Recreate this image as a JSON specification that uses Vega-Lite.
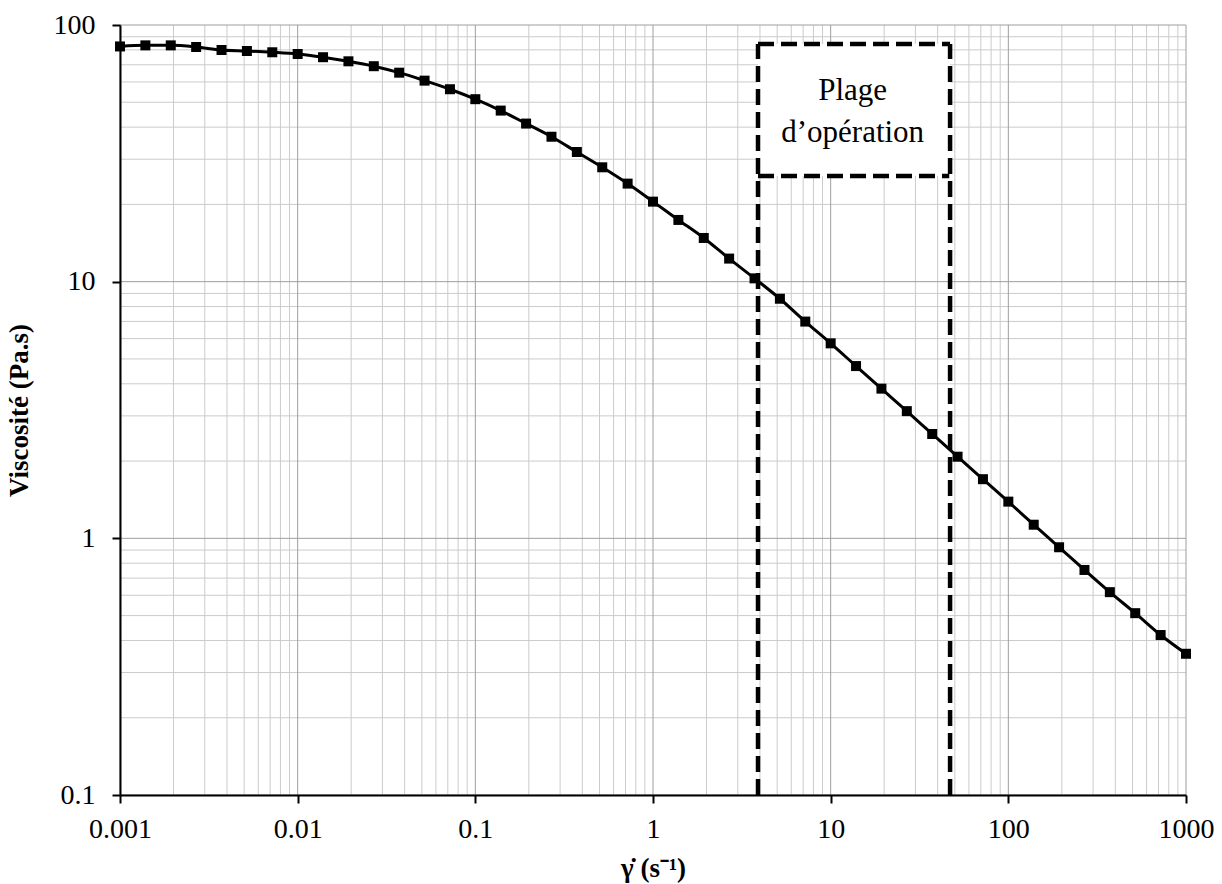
{
  "$schema": "https://vega.github.io/schema/vega-lite/v6.json",
  "width": 1066,
  "height": 770,
  "autosize": {"type": "none"},
  "padding": {"left": 120, "top": 25, "right": 36, "bottom": 89},
  "background": "white",
  "config": {"view": {"stroke": null}},
  "datasets": {
    "curve": [
      {"x": 0.001, "y": 82.5},
      {"x": 0.0013895, "y": 83.3},
      {"x": 0.0019307, "y": 83.3},
      {"x": 0.0026827, "y": 82.1},
      {"x": 0.0037276, "y": 79.9},
      {"x": 0.0051795, "y": 79.2},
      {"x": 0.0071969, "y": 78.3},
      {"x": 0.01, "y": 77.1},
      {"x": 0.013895, "y": 74.9},
      {"x": 0.019307, "y": 72.2},
      {"x": 0.026827, "y": 69.1},
      {"x": 0.037276, "y": 65.2},
      {"x": 0.051795, "y": 60.7},
      {"x": 0.071969, "y": 56.2},
      {"x": 0.1, "y": 51.4},
      {"x": 0.13895, "y": 46.4},
      {"x": 0.19307, "y": 41.3},
      {"x": 0.26827, "y": 36.7},
      {"x": 0.37276, "y": 32.0},
      {"x": 0.51795, "y": 27.9},
      {"x": 0.71969, "y": 24.1},
      {"x": 1, "y": 20.5},
      {"x": 1.3895, "y": 17.4},
      {"x": 1.9307, "y": 14.8},
      {"x": 2.6827, "y": 12.3},
      {"x": 3.7276, "y": 10.3},
      {"x": 5.1795, "y": 8.58},
      {"x": 7.1969, "y": 6.99},
      {"x": 10, "y": 5.75},
      {"x": 13.895, "y": 4.69},
      {"x": 19.307, "y": 3.83},
      {"x": 26.827, "y": 3.13},
      {"x": 37.276, "y": 2.55},
      {"x": 51.795, "y": 2.08},
      {"x": 71.969, "y": 1.70},
      {"x": 100, "y": 1.39},
      {"x": 138.95, "y": 1.13},
      {"x": 193.07, "y": 0.923},
      {"x": 268.27, "y": 0.753},
      {"x": 372.76, "y": 0.617},
      {"x": 517.95, "y": 0.511},
      {"x": 719.69, "y": 0.420},
      {"x": 1000, "y": 0.355}
    ],
    "xMinor": [
      {"x": 0.002}, {"x": 0.003}, {"x": 0.004}, {"x": 0.005}, {"x": 0.006}, {"x": 0.007}, {"x": 0.008}, {"x": 0.009},
      {"x": 0.02}, {"x": 0.03}, {"x": 0.04}, {"x": 0.05}, {"x": 0.06}, {"x": 0.07}, {"x": 0.08}, {"x": 0.09},
      {"x": 0.2}, {"x": 0.3}, {"x": 0.4}, {"x": 0.5}, {"x": 0.6}, {"x": 0.7}, {"x": 0.8}, {"x": 0.9},
      {"x": 2}, {"x": 3}, {"x": 4}, {"x": 5}, {"x": 6}, {"x": 7}, {"x": 8}, {"x": 9},
      {"x": 20}, {"x": 30}, {"x": 40}, {"x": 50}, {"x": 60}, {"x": 70}, {"x": 80}, {"x": 90},
      {"x": 200}, {"x": 300}, {"x": 400}, {"x": 500}, {"x": 600}, {"x": 700}, {"x": 800}, {"x": 900}
    ],
    "xMajor": [
      {"x": 0.001}, {"x": 0.01}, {"x": 0.1}, {"x": 1}, {"x": 10}, {"x": 100}, {"x": 1000}
    ],
    "yMinor": [
      {"y": 0.2}, {"y": 0.3}, {"y": 0.4}, {"y": 0.5}, {"y": 0.6}, {"y": 0.7}, {"y": 0.8}, {"y": 0.9},
      {"y": 2}, {"y": 3}, {"y": 4}, {"y": 5}, {"y": 6}, {"y": 7}, {"y": 8}, {"y": 9},
      {"y": 20}, {"y": 30}, {"y": 40}, {"y": 50}, {"y": 60}, {"y": 70}, {"y": 80}, {"y": 90}
    ],
    "yMajor": [
      {"y": 0.1}, {"y": 1}, {"y": 10}, {"y": 100}
    ],
    "box": [{"x": 3.9, "x2": 47, "y": 25.8, "y2": 84.4}],
    "lines": [
      {"x": 3.9, "x2": 3.9, "y": 0.1, "y2": 84.4},
      {"x": 47, "x2": 47, "y": 0.1, "y2": 84.4},
      {"x": 3.9, "x2": 47, "y": 84.4, "y2": 84.4},
      {"x": 3.9, "x2": 46.5, "y": 25.8, "y2": 25.8}
    ],
    "labels": [
      {"x": 13.3, "y": 51, "label": "Plage"},
      {"x": 13.3, "y": 35, "label": "d’opération"}
    ]
  },
  "layer": [
    {
      "data": {"name": "xMinor"},
      "mark": {"type": "rule", "color": "#cbcbcb", "strokeWidth": 1},
      "encoding": {
        "x": {"field": "x", "type": "quantitative", "scale": {"type": "log", "domain": [0.001, 1000], "nice": false}}
      }
    },
    {
      "data": {"name": "yMinor"},
      "mark": {"type": "rule", "color": "#cbcbcb", "strokeWidth": 1},
      "encoding": {
        "y": {"field": "y", "type": "quantitative", "scale": {"type": "log", "domain": [0.1, 100], "nice": false}}
      }
    },
    {
      "data": {"name": "xMajor"},
      "mark": {"type": "rule", "color": "#9e9e9e", "strokeWidth": 1},
      "encoding": {
        "x": {"field": "x", "type": "quantitative", "scale": {"type": "log", "domain": [0.001, 1000], "nice": false}}
      }
    },
    {
      "data": {"name": "yMajor"},
      "mark": {"type": "rule", "color": "#9e9e9e", "strokeWidth": 1},
      "encoding": {
        "y": {"field": "y", "type": "quantitative", "scale": {"type": "log", "domain": [0.1, 100], "nice": false}}
      }
    },
    {
      "data": {"name": "box"},
      "mark": {"type": "rect", "fill": "white", "stroke": null},
      "encoding": {
        "x": {"field": "x", "type": "quantitative", "scale": {"type": "log", "domain": [0.001, 1000], "nice": false}},
        "x2": {"field": "x2"},
        "y": {"field": "y", "type": "quantitative", "scale": {"type": "log", "domain": [0.1, 100], "nice": false}},
        "y2": {"field": "y2"}
      }
    },
    {
      "data": {"name": "lines"},
      "mark": {"type": "rule", "color": "black", "strokeWidth": 4.5, "strokeDash": [16, 7], "strokeCap": "butt"},
      "encoding": {
        "x": {"field": "x", "type": "quantitative", "scale": {"type": "log", "domain": [0.001, 1000], "nice": false}},
        "x2": {"field": "x2"},
        "y": {"field": "y", "type": "quantitative", "scale": {"type": "log", "domain": [0.1, 100], "nice": false}},
        "y2": {"field": "y2"}
      }
    },
    {
      "data": {"name": "labels"},
      "mark": {"type": "text", "font": "Tinos", "fontSize": 31, "color": "black", "align": "center", "baseline": "alphabetic"},
      "encoding": {
        "x": {"field": "x", "type": "quantitative", "scale": {"type": "log", "domain": [0.001, 1000], "nice": false}},
        "y": {"field": "y", "type": "quantitative", "scale": {"type": "log", "domain": [0.1, 100], "nice": false}},
        "text": {"field": "label"}
      }
    },
    {
      "data": {"name": "curve"},
      "mark": {"type": "line", "color": "black", "strokeWidth": 3, "interpolate": "monotone"},
      "encoding": {
        "x": {
          "field": "x",
          "type": "quantitative",
          "scale": {"type": "log", "domain": [0.001, 1000], "nice": false},
          "axis": {
            "values": [0.001, 0.01, 0.1, 1, 10, 100, 1000],
            "format": "~g",
            "grid": false,
            "zindex": 1,
            "labelOverlap": false,
            "labelFlush": false,
            "labelFont": "Tinos",
            "labelFontSize": 28,
            "labelColor": "black",
            "labelPadding": 12,
            "tickSize": 8,
            "tickWidth": 2,
            "tickColor": "black",
            "domainColor": "black",
            "domainWidth": 2,
            "title": "γ̇ (s⁻¹)",
            "titleFont": "Tinos",
            "titleFontSize": 27,
            "titleFontWeight": "bold",
            "titleColor": "black",
            "titlePadding": 12
          }
        },
        "y": {
          "field": "y",
          "type": "quantitative",
          "scale": {"type": "log", "domain": [0.1, 100], "nice": false},
          "axis": {
            "values": [0.1, 1, 10, 100],
            "format": "~g",
            "grid": false,
            "zindex": 1,
            "labelOverlap": false,
            "labelFlush": false,
            "labelFont": "Tinos",
            "labelFontSize": 28,
            "labelColor": "black",
            "labelPadding": 17,
            "tickSize": 8,
            "tickWidth": 2,
            "tickColor": "black",
            "domainColor": "black",
            "domainWidth": 2,
            "title": "Viscosité (Pa.s)",
            "titleFont": "Tinos",
            "titleFontSize": 27,
            "titleFontWeight": "bold",
            "titleColor": "black",
            "titlePadding": 20
          }
        }
      }
    },
    {
      "data": {"name": "curve"},
      "mark": {"type": "point", "shape": "square", "filled": true, "color": "black", "size": 100, "opacity": 1},
      "encoding": {
        "x": {"field": "x", "type": "quantitative", "scale": {"type": "log", "domain": [0.001, 1000], "nice": false}},
        "y": {"field": "y", "type": "quantitative", "scale": {"type": "log", "domain": [0.1, 100], "nice": false}}
      }
    }
  ]
}
